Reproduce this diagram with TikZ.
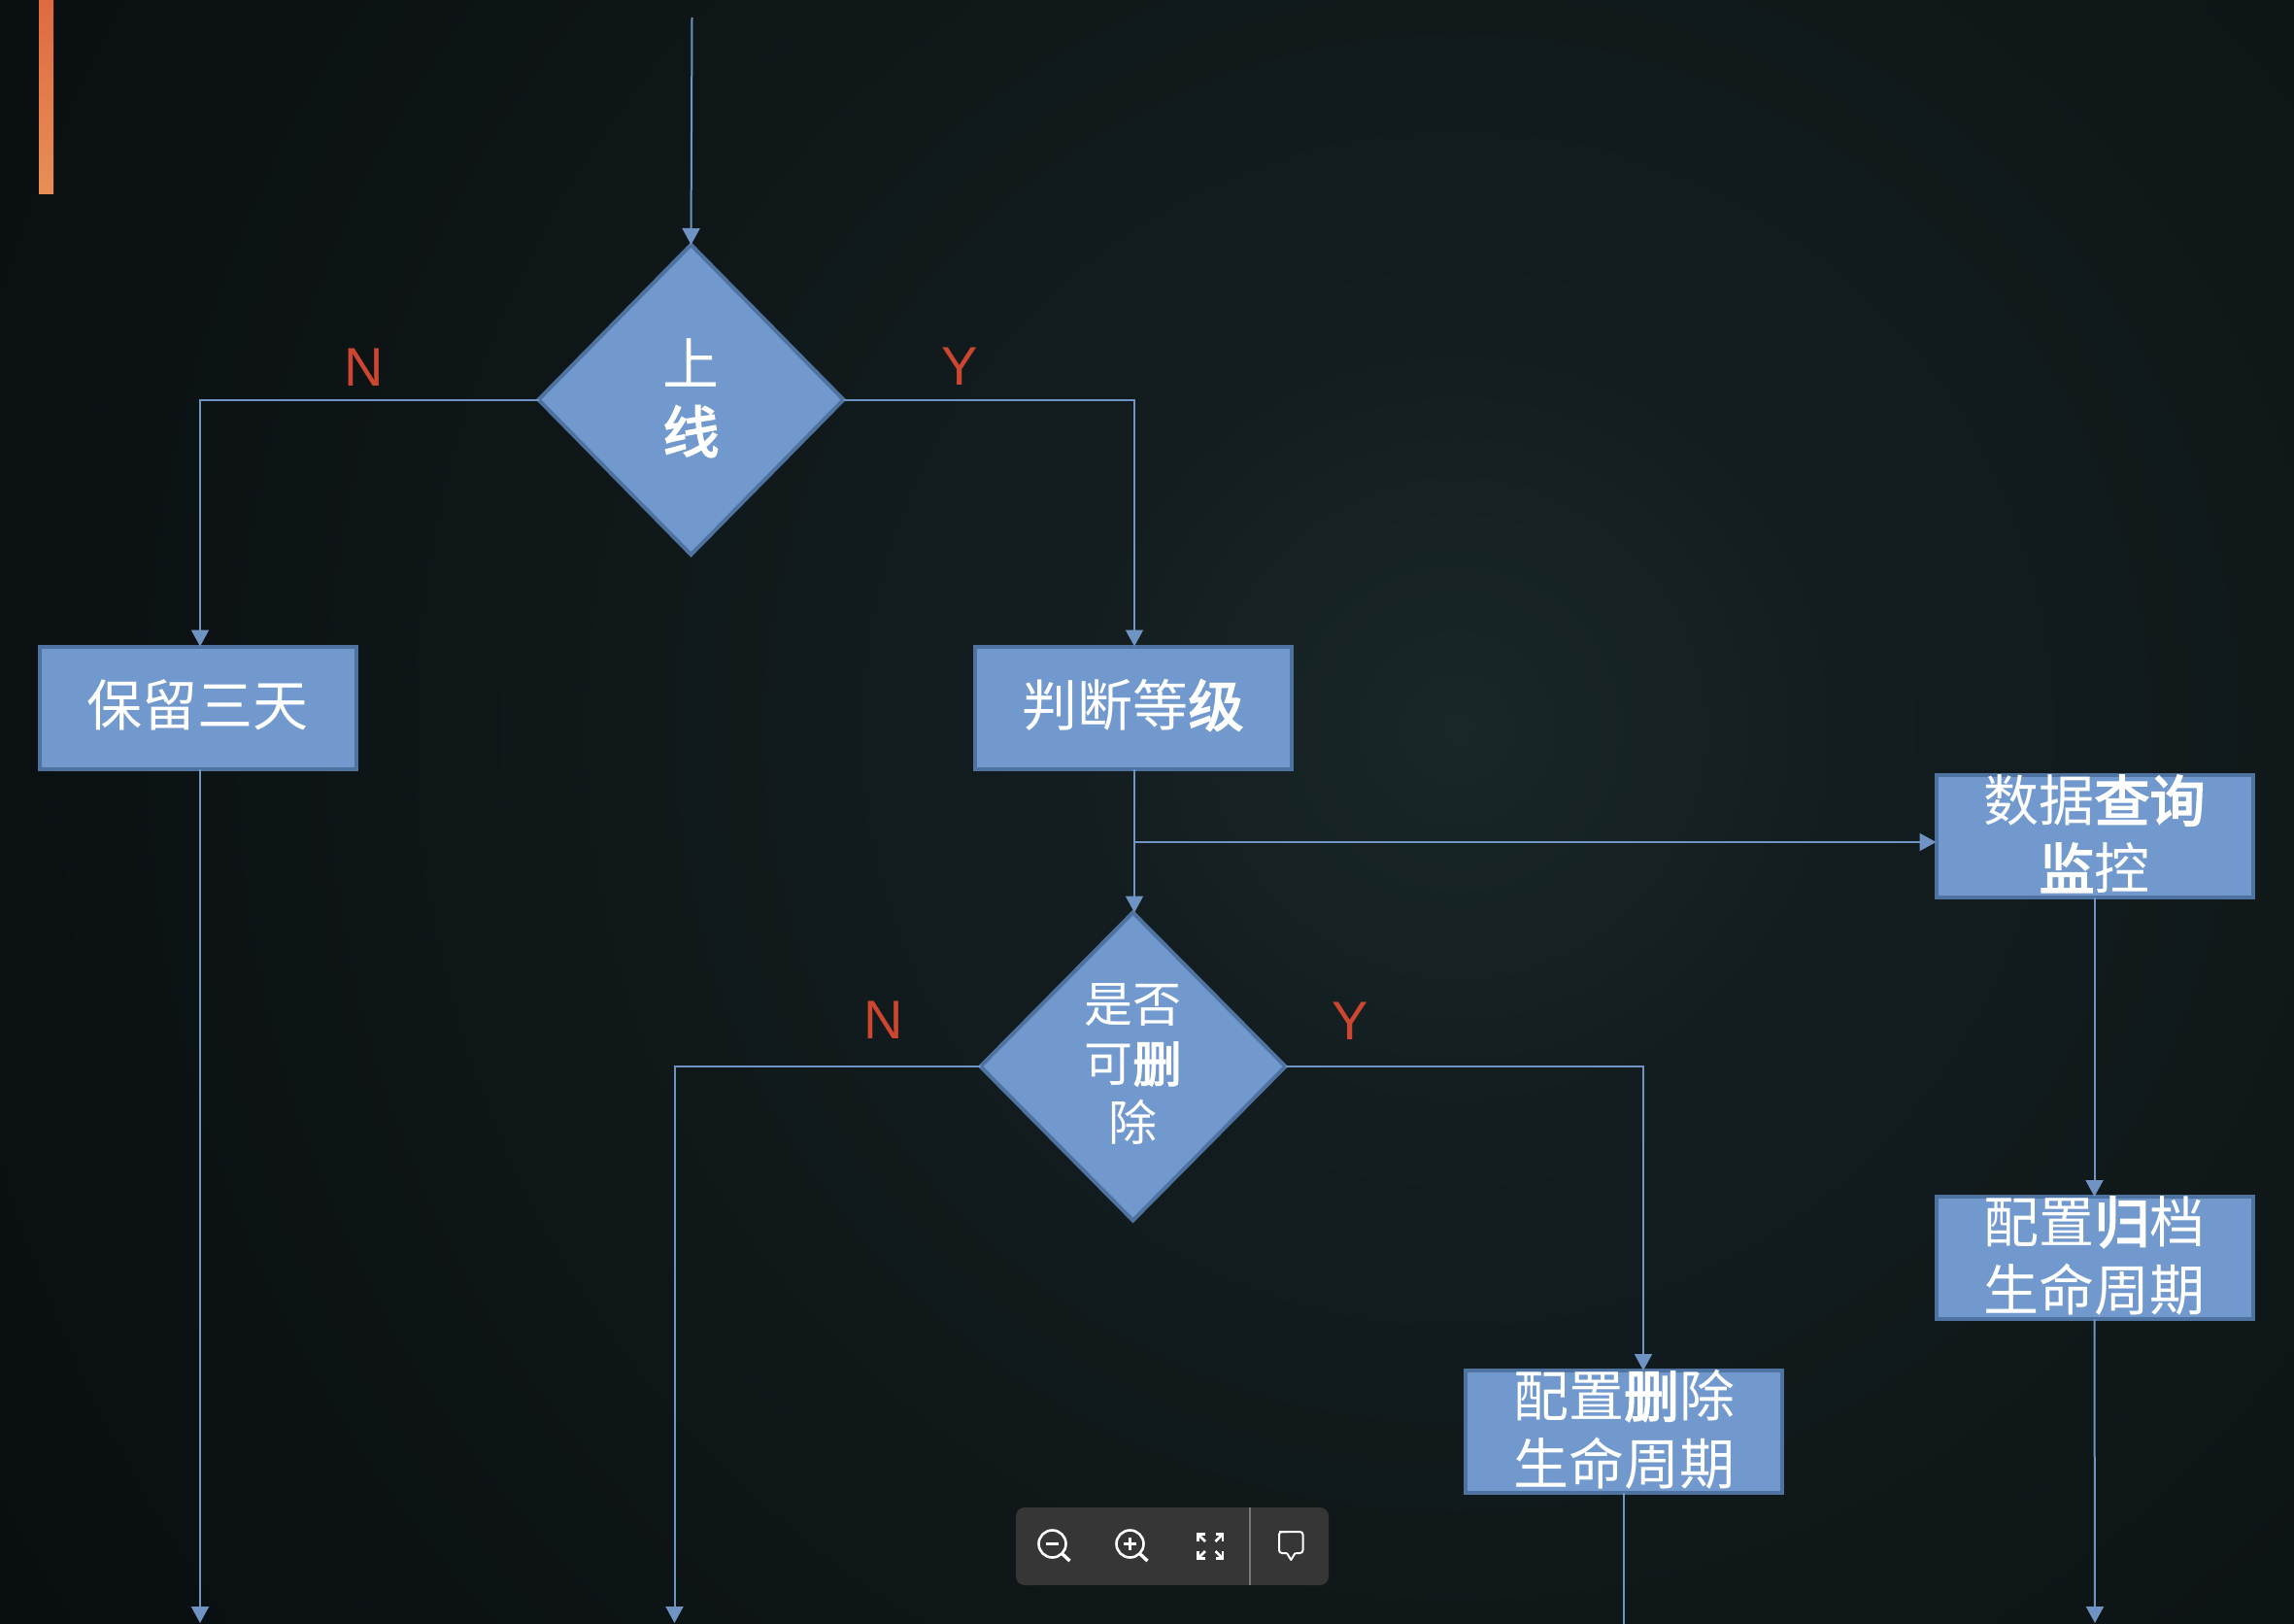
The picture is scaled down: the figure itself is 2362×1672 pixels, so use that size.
\documentclass[tikz,border=0pt]{standalone}
\usepackage{fontspec}
\setmainfont{Noto Sans CJK SC}
\newfontfamily\heavyfont[FakeBold=3]{Noto Sans CJK SC}
\newfontfamily\latinfont{Liberation Sans}
\newcommand{\hv}[1]{{\heavyfont #1}}
\usetikzlibrary{arrows.meta,shapes.geometric,calc}
\definecolor{bgA}{HTML}{192729}
\definecolor{bgB}{HTML}{131D1F}
\definecolor{bgC}{HTML}{0E1517}
\definecolor{bgE}{HTML}{090E10}
\definecolor{bgF}{HTML}{040607}
\definecolor{bgD}{HTML}{020304}
\definecolor{boxfill}{HTML}{7199CD}
\definecolor{boxedge}{HTML}{4F73A0}
\definecolor{linkc}{HTML}{6F94C3}
\definecolor{labelc}{HTML}{CC4630}
\definecolor{barA}{HTML}{DF6A40}
\definecolor{barB}{HTML}{E78F58}
\definecolor{toolc}{HTML}{363636}
\definecolor{toolsep}{HTML}{777777}
\pgfdeclareradialshading{bgshade}{\pgfpointorigin}{color(0bp)=(bgA); color(5bp)=(bgB); color(14bp)=(bgC); color(22bp)=(bgE); color(27bp)=(bgF); color(50bp)=(bgD)}
\newcommand{\celltext}[2]{\smash{\raisebox{#1}{\parbox[c]{300pt}{\centering #2}}}}
\tikzset{
  flowbox/.style={rectangle,draw=boxedge,fill=boxfill,line width=4pt,minimum width=326pt,minimum height=126pt,inner sep=0pt,outer sep=0pt,text=white,font=\fontsize{57}{70}\selectfont},
  flowdia/.style={diamond,draw=boxedge,fill=boxfill,line width=4pt,aspect=1,inner sep=0pt,outer sep=0pt,text=white},
  link/.style={draw=linkc,line width=2pt},
  linka/.style={link,-{Triangle[length=17pt,width=18pt,fill=linkc]}},
  branch/.style={text=labelc,font=\latinfont\fontsize{56}{60}\selectfont,inner sep=0pt},
  toolicon/.style={draw=white,line width=2.6pt},
}
\begin{document}
\begin{tikzpicture}[x=1pt,y=-1pt]
\useasboundingbox (0,0) rectangle (2362,1672);
\begin{scope}
\clip (0,0) rectangle (2362,1672);
\fill[shading=bgshade] (1500,750) circle (2000);
\shade[bottom color=barB,top color=barA] (40,0) rectangle (55,200);
\end{scope}
% nodes
\node[flowdia,minimum width=314pt,minimum height=319pt,font=\fontsize{58}{70}\selectfont] (d1) at (711.5,411.5) {\celltext{-12pt}{\strut 上\\\strut\hv{线}}};
\node[flowdia,minimum width=314pt,minimum height=317pt,font=\fontsize{50}{61}\selectfont] (d2) at (1166.5,1098) {\celltext{-10pt}{\strut 是否\\\strut 可\hv{删}\\\strut 除}};
\node[flowbox] (r1) at (203.5,728.5) {\celltext{-11.5pt}{\strut 保留三天}};
\node[flowbox] (r2) at (1166.5,728.5) {\celltext{-11.5pt}{\strut 判断等\hv{级}}};
\node[flowbox] (r3) at (2156.5,861) {\celltext{-12pt}{\strut 数据\hv{查询}\\\strut\hv{监}控}};
\node[flowbox] (r4) at (2156.5,1295) {\celltext{-12pt}{\strut 配置\hv{归}档\\\strut 生命周期}};
\node[flowbox] (r5) at (1672,1474) {\celltext{-12pt}{\strut 配置\hv{删}除\\\strut 生命周期}};
\node[branch] (ln1) at (374.5,378) {N};
\node[branch] (ly1) at (988.5,377) {Y};
\node[branch] (ln2) at (909.5,1050) {N};
\node[branch] (ly2) at (1390,1051) {Y};
% free ends
\coordinate (top) at (712.5,18);
\coordinate (endA) at (206,1671);
\coordinate (endB) at (694.5,1671);
\coordinate (endC) at (2157,1671);
\coordinate (endD) at (1672,1673);
\coordinate (fork) at (1168,867);
% connectors
\draw[linka] (top) -- (d1.north);
\draw[linka] (d1.west) -| ([xshift=2.5pt]r1.north);
\draw[linka] (d1.east) -| ([xshift=1.5pt]r2.north);
\draw[linka] ([xshift=2.5pt]r1.south) -- (endA);
\draw[linka] ([xshift=1.5pt]r2.south) -- ([xshift=1.5pt]d2.north);
\draw[linka] (fork) -- (fork -| r3.west);
\draw[linka] (r3.south) -- (r4.north);
\draw[linka] (r4.south) -- (endC);
\draw[linka] (d2.west) -| (endB);
\draw[linka] (d2.east) -| ([xshift=20pt]r5.north);
\draw[link] (r5.south) -- (endD);
% viewer toolbar
\fill[toolc,rounded corners=9pt] (1046,1552) rectangle (1368,1632);
\fill[toolsep] (1286,1552) rectangle (1288,1632);
\draw[toolicon] (1083.5,1589.5) circle (14);
\draw[toolicon,line width=3.4pt] (1094,1600) -- (1101.5,1607);
\draw[toolicon] (1077,1589.5) -- (1089.5,1589.5);
\draw[toolicon] (1163.5,1589.5) circle (14);
\draw[toolicon,line width=3.4pt] (1174,1600) -- (1181.5,1607);
\draw[toolicon] (1157,1589.5) -- (1170,1589.5);
\draw[toolicon] (1163.5,1583) -- (1163.5,1596);
\draw[toolicon] (1233.5,1587) -- (1233.5,1579.5) -- (1241,1579.5);
\draw[toolicon] (1233.5,1579.5) -- (1241,1587);
\draw[toolicon] (1259,1587) -- (1259,1579.5) -- (1251.5,1579.5);
\draw[toolicon] (1259,1579.5) -- (1251.5,1587);
\draw[toolicon] (1233.5,1597) -- (1233.5,1604.5) -- (1241,1604.5);
\draw[toolicon] (1233.5,1604.5) -- (1241,1597);
\draw[toolicon] (1259,1597) -- (1259,1604.5) -- (1251.5,1604.5);
\draw[toolicon] (1259,1604.5) -- (1251.5,1597);
\draw[toolicon,line width=2pt,line join=round,rounded corners=3pt] (1317,1577) -- (1341.5,1577) -- (1341.5,1599) -- (1333.5,1599);
\draw[toolicon,line width=2pt,line join=round] (1333.5,1599) -- (1329.3,1606) -- (1325,1599);
\draw[toolicon,line width=2pt,line join=round,rounded corners=3pt] (1325,1599) -- (1317,1599) -- (1317,1577) -- (1325,1577);
\end{tikzpicture}
\end{document}
